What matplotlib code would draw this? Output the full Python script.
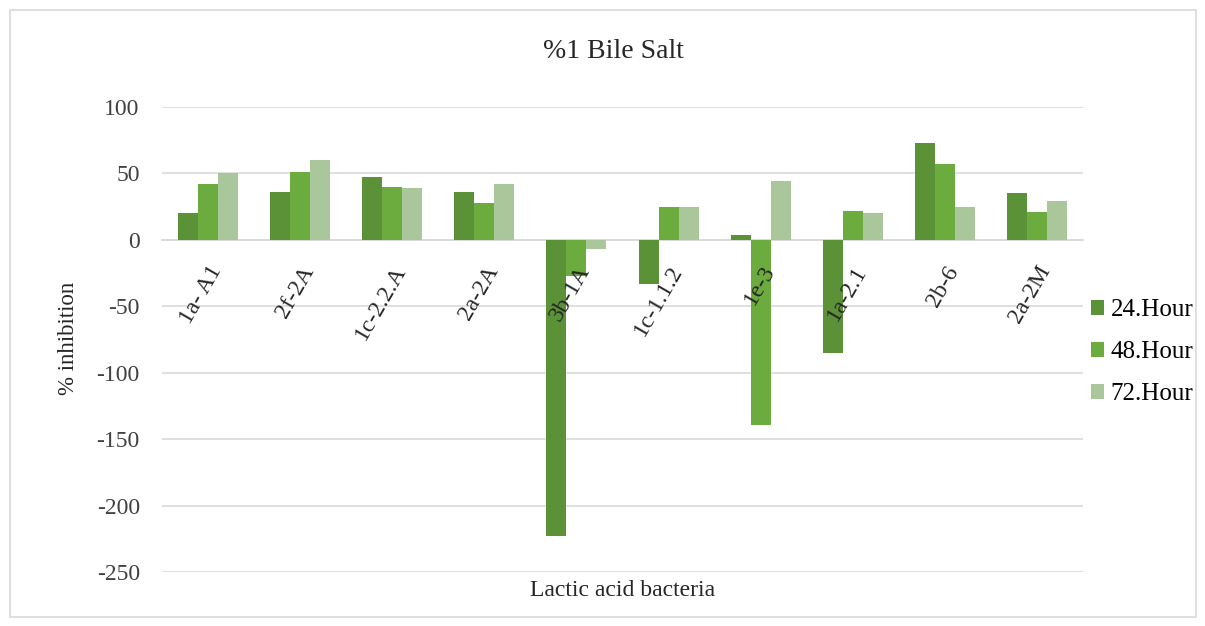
import matplotlib.pyplot as plt
import numpy as np
from matplotlib.patches import Rectangle

# bacteria isolates and % inhibition after 24, 48 and 72 hours in 1% bile salt
isolates = ["1a- A1", "2f-2A", "1c-2.2.A", "2a-2A", "3b-1A",
            "1c-1.1.2", "1e-3", "1a-2.1", "2b-6", "2a-2M"]
hour_24 = [20, 36, 47, 36, -223, -33, 4, -85, 73, 35]
hour_48 = [42, 51, 40, 28, -27, 25, -139, 22, 57, 21]
hour_72 = [50, 60, 39, 42, -7, 25, 44, 20, 25, 29]
series_names = ["24.Hour", "48.Hour", "72.Hour"]
y_ticks = [100, 50, 0, -50, -100, -150, -200, -250]

colors = ["#5B9137", "#6CAB3E", "#AAC79B"]
grid_color = "#D9D9D9"

plt.rcParams["font.family"] = ["Liberation Serif", "DejaVu Serif"]

fig = plt.figure(figsize=(12.05, 6.26), dpi=100)
ax = fig.add_axes([162 / 1205, 1 - 572 / 626, 921 / 1205, 465 / 626])

x = np.arange(len(isolates))
w = 0.217
for k, vals in enumerate([hour_24, hour_48, hour_72]):
    ax.bar(x + (k - 1) * w, vals, width=w, color=colors[k],
           label=series_names[k], zorder=2)

ax.set_xlim(-0.5, len(isolates) - 0.5)
ax.set_ylim(-250, 100)
ax.set_yticks(y_ticks)
ax.set_yticklabels([str(t) for t in y_ticks])
ax.yaxis.grid(True, color=grid_color, linewidth=1.2)
ax.yaxis.set_zorder(0.5)
ax.tick_params(axis="y", length=0, pad=16, labelsize=17, labelcolor="#404040")

# category axis sits on the zero line, its labels drawn over the bars
for side in ["top", "right", "left"]:
    ax.spines[side].set_visible(False)
ax.spines["bottom"].set_position(("data", 0))
ax.spines["bottom"].set_color(grid_color)
ax.spines["bottom"].set_linewidth(1.2)
ax.spines["bottom"].set_zorder(1)
ax.set_xticks(x)
ax.set_xticklabels(isolates, rotation=60, ha="right", va="top",
                   rotation_mode="anchor")
ax.xaxis.set_zorder(4)
ax.tick_params(axis="x", length=0, pad=16, labelsize=17, labelcolor="#262626")

fig.text(613 / 1205, 1 - 51 / 626, "%1 Bile Salt", ha="center", va="center",
         fontsize=20, color="#262626")
fig.text(623 / 1205, 1 - 590 / 626, "Lactic acid bacteria", ha="center",
         va="center", fontsize=17, color="#262626")
fig.text(69 / 1205, 1 - 338 / 626, "% inhibition", ha="center", va="center",
         rotation=90, fontsize=16.5, color="#262626")

fig.legend(loc="center left", bbox_to_anchor=(1078 / 1205, 1 - 352 / 626),
           frameon=False, fontsize=18, handlelength=0.55, handleheight=0.55,
           handletextpad=0.25, labelspacing=0.8, borderpad=0)

# light frame round the whole chart
fig.patches.append(Rectangle((10 / 1205, 9 / 626), 1186 / 1205, 607 / 626,
                             transform=fig.transFigure, fill=False,
                             edgecolor=grid_color, linewidth=1.2))

fig.savefig("out.png", dpi=100)
